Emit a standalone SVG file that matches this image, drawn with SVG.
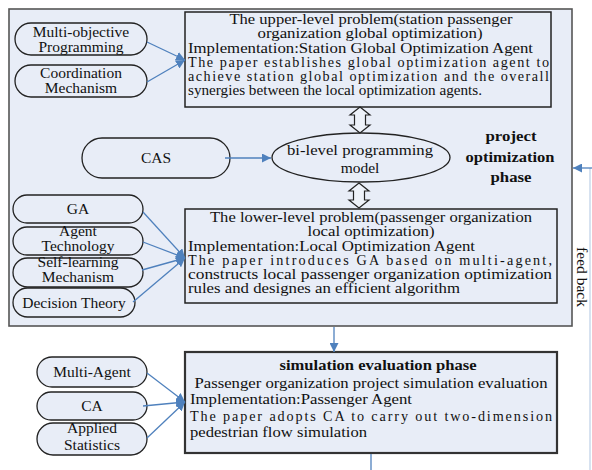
<svg xmlns="http://www.w3.org/2000/svg" width="592" height="470" viewBox="0 0 592 470">
<defs>
<style>
.bg{fill:#ffffff}
.phase{fill:#e8edf7;stroke:#555;stroke-width:1.6}
.box{fill:#e8edf7;stroke:#222;stroke-width:1.5}
.sim{fill:#e8edf7;stroke:#333;stroke-width:2.2}
.pill{fill:#e8edf7;stroke:#222;stroke-width:1.3}
.dbl{fill:#eef2f9;stroke:#222;stroke-width:1.2}
text{font-family:'Liberation Serif',Tinos,'Times New Roman','DejaVu Serif',serif}
.t{font-size:14.2px;fill:#111}
.p{font-size:15.5px;fill:#111;text-anchor:middle}
.c{text-anchor:middle}
.b{font-weight:bold}
.con{fill:none;stroke:#4f81bd;stroke-width:1.3}
</style>
<marker id="ah" viewBox="0 0 10 10" refX="10" refY="5" markerWidth="9" markerHeight="9" markerUnits="userSpaceOnUse" orient="auto">
<path d="M0,0 L10,5 L0,10 Z" fill="#4f81bd"/>
</marker>
</defs>
<rect class="bg" x="0" y="0" width="592" height="470"/>

<g id="optimization-phase">
<rect class="phase" x="9" y="9" width="563" height="317"/>
<text class="p b" x="511" y="141" textLength="51" lengthAdjust="spacingAndGlyphs">project</text>
<text class="p b" x="510" y="162" textLength="89" lengthAdjust="spacingAndGlyphs">optimization</text>
<text class="p b" x="511" y="182" textLength="41" lengthAdjust="spacingAndGlyphs">phase</text>
</g>

<g id="upper-level">
<rect class="box" x="185" y="12" width="366" height="95"/>
<text class="t c" x="371" y="24" textLength="283" lengthAdjust="spacingAndGlyphs">The upper-level problem(station passenger</text>
<text class="t c" x="370" y="38" textLength="225" lengthAdjust="spacingAndGlyphs">organization global optimization)</text>
<text class="t" x="188" y="53" textLength="345" lengthAdjust="spacingAndGlyphs">Implementation:Station Global Optimization Agent</text>
<text class="t" x="188" y="67" textLength="361" lengthAdjust="spacing">The paper establishes global optimization agent to</text>
<text class="t" x="188" y="81" textLength="361" lengthAdjust="spacing">achieve station global optimization and the overall</text>
<text class="t" x="188" y="95" textLength="294" lengthAdjust="spacingAndGlyphs">synergies between the local optimization agents.</text>
</g>

<g id="multi-objective">
<rect class="pill" x="15" y="23" width="132" height="32" rx="16"/>
<text class="p" x="81" y="37">Multi-objective</text>
<text class="p" x="81" y="52">Programming</text>
</g>
<g id="coordination">
<rect class="pill" x="15" y="65" width="132" height="32" rx="16"/>
<text class="p" x="81" y="78">Coordination</text>
<text class="p" x="81" y="93">Mechanism</text>
</g>

<g id="cas">
<rect class="pill" x="82" y="138" width="148" height="40" rx="20"/>
<text class="p" x="156" y="163">CAS</text>
</g>

<g id="bilevel">
<ellipse class="pill" cx="361" cy="157.5" rx="89" ry="24.5"/>
<text class="p" x="360" y="155" textLength="146" lengthAdjust="spacingAndGlyphs">bi-level programming</text>
<text class="p" x="360" y="173">model</text>
</g>

<g id="lower-level">
<rect class="box" x="185" y="209" width="372" height="94"/>
<text class="t c" x="371" y="222" textLength="322" lengthAdjust="spacingAndGlyphs">The lower-level problem(passenger organization</text>
<text class="t c" x="371" y="236" textLength="127" lengthAdjust="spacingAndGlyphs">local optimization)</text>
<text class="t" x="188" y="251" textLength="287" lengthAdjust="spacingAndGlyphs">Implementation:Local Optimization Agent</text>
<text class="t" x="188" y="265" textLength="364" lengthAdjust="spacing">The paper introduces GA based on multi-agent,</text>
<text class="t" x="188" y="279" textLength="364" lengthAdjust="spacingAndGlyphs">constructs local passenger organization optimization</text>
<text class="t" x="188" y="293" textLength="272" lengthAdjust="spacingAndGlyphs">rules and designes an efficient algorithm</text>
</g>

<g id="ga">
<rect class="pill" x="13" y="195" width="130" height="28" rx="14"/>
<text class="p" x="78" y="214">GA</text>
</g>
<g id="agent-technology">
<rect class="pill" x="13" y="227" width="130" height="28" rx="14"/>
<text class="p" x="78" y="236">Agent</text>
<text class="p" x="78" y="251">Technology</text>
</g>
<g id="self-learning">
<rect class="pill" x="13" y="258" width="130" height="29" rx="14.5"/>
<text class="p" x="78" y="267">Self-learning</text>
<text class="p" x="78" y="282">Mechanism</text>
</g>
<g id="decision-theory">
<rect class="pill" x="13" y="288" width="122" height="29" rx="14.5"/>
<text class="p" x="74" y="308">Decision Theory</text>
</g>

<g id="simulation-phase">
<rect class="sim" x="185" y="352" width="372" height="101"/>
<text class="t c b" x="378" y="370" textLength="197" lengthAdjust="spacingAndGlyphs" style="font-size:15.5px">simulation evaluation phase</text>
<text class="t c" x="371" y="388" textLength="353" lengthAdjust="spacingAndGlyphs">Passenger organization project simulation evaluation</text>
<text class="t" x="190" y="404" textLength="222" lengthAdjust="spacingAndGlyphs">Implementation:Passenger Agent</text>
<text class="t" x="190" y="421" textLength="362" lengthAdjust="spacing">The paper adopts CA to carry out two-dimension</text>
<text class="t" x="190" y="437" textLength="177" lengthAdjust="spacingAndGlyphs">pedestrian flow simulation</text>
</g>

<g id="multi-agent">
<rect class="pill" x="37" y="357" width="110" height="30" rx="15"/>
<text class="p" x="92" y="377">Multi-Agent</text>
</g>
<g id="ca">
<rect class="pill" x="37" y="392" width="110" height="28" rx="14"/>
<text class="p" x="92" y="411">CA</text>
</g>
<g id="applied-statistics">
<rect class="pill" x="37" y="423" width="110" height="32" rx="16"/>
<text class="p" x="92" y="433">Applied</text>
<text class="p" x="92" y="450">Statistics</text>
</g>

<g id="feed-back-label">
<text class="p" transform="translate(577,277) rotate(90)">feed back</text>
</g>

<g id="connectors">
<path class="con" d="M147,42 L185,60" marker-end="url(#ah)"/>
<path class="con" d="M147,82 L185,60" marker-end="url(#ah)"/>
<path class="con" d="M225,158 L271,158" marker-end="url(#ah)"/>
<path class="con" d="M143,212 L185,258" marker-end="url(#ah)"/>
<path class="con" d="M143,242 L185,258" marker-end="url(#ah)"/>
<path class="con" d="M142,270 L185,258" marker-end="url(#ah)"/>
<path class="con" d="M133,302 L185,258" marker-end="url(#ah)"/>
<path class="con" d="M147,373 L185,402" marker-end="url(#ah)"/>
<path class="con" d="M143,406 L185,402" marker-end="url(#ah)"/>
<path class="con" d="M147,438 L185,402" marker-end="url(#ah)"/>
<path class="con" d="M334,327 L334,352" marker-end="url(#ah)"/>
<path class="con" d="M371,454 L371,470"/>
<path class="con" d="M590,470 L590,168" style="stroke-opacity:0.35"/>
<path class="con" d="M592,168 L573,168" marker-end="url(#ah)"/>
<path class="dbl" d="M360,107 L370,115 L365.5,115 L365.5,125 L370,125 L360,133 L350,125 L354.5,125 L354.5,115 L350,115 Z"/>
<path class="dbl" d="M359,183 L369,191 L364.5,191 L364.5,200 L369,200 L359,208 L349,200 L353.5,200 L353.5,191 L349,191 Z"/>
</g>
</svg>
